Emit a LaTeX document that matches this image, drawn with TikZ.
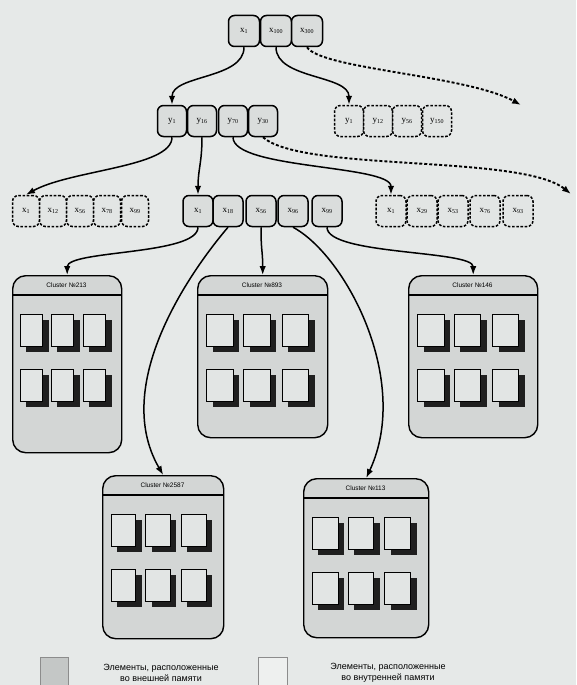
\documentclass[tikz,border=0pt]{standalone}
\usepackage{fontspec}
\setsansfont{Liberation Sans}
\newfontfamily\cellfont{Liberation Serif}
\usetikzlibrary{arrows.meta,calc}
\definecolor{paper}{RGB}{230,233,232}
\definecolor{cellfill}{RGB}{218,221,220}
\definecolor{dashfill}{RGB}{226,229,228}
\definecolor{clusterfill}{RGB}{211,214,213}
\definecolor{docfill}{RGB}{226,229,228}
\definecolor{extfill}{RGB}{196,199,198}
\definecolor{intfill}{RGB}{238,240,239}

\tikzset{
  cell/.style={draw, line width=1.5pt, rounded corners=6pt, fill=cellfill,
    minimum width=29pt, minimum height=31pt, inner sep=0pt,
    font=\cellfont\fontsize{9}{10}\selectfont},
  dcell/.style={cell, fill=dashfill, dash pattern=on 2.6pt off 1.6pt},
  conn/.style={draw, line width=1.5pt, -{Latex[length=9pt,width=6.5pt]}},
  dconn/.style={draw, line width=1.9pt, dash pattern=on 3pt off 2pt,
    -{Latex[length=9pt,width=6.5pt]}},
  clusterbox/.style={draw, line width=1.4pt, rounded corners=13pt,
    fill=clusterfill, inner sep=0pt, anchor=north west},
  docfront/.style={draw=black, line width=0.9pt, fill=docfill},
  legendtext/.style={font=\sffamily\fontsize{9}{11}\selectfont, align=center},
}

% one cluster: name, left, top, width, height, number
\newcommand\clusterunit[6]{%
  \node[clusterbox, minimum width=#4pt, minimum height=#5pt] (#1) at (#2,#3) {};
  \draw[line width=1.3pt] (#2,{#3+20}) -- ({#2+#4},{#3+20});
  \node[font=\sffamily\fontsize{6.5}{7}\selectfont] (#1-title) at ({#2+#4/2},{#3+10.5}) {Cluster №#6};
  \foreach \c in {0.075,0.36,0.655}{
    \foreach \r in {39,94}{
      \fill[black!88] ({#2+\c*#4+6},{#3+\r+6}) rectangle ++({0.205*#4},32);
      \filldraw[docfront] ({#2+\c*#4},{#3+\r}) rectangle ++({0.205*#4},32);
    }
  }%
}

\newcommand\xs[1]{x\textsubscript{#1}}
\newcommand\ys[1]{y\textsubscript{#1}}

\begin{document}
\begin{tikzpicture}[x=1pt,y=-1pt]
\fill[paper] (0,0) rectangle (576,685);
\useasboundingbox (0,0) rectangle (576,685);

% root level
\node[cell, minimum width=31pt] (a1) at (244,31) {\xs{1}};
\node[cell, minimum width=31pt] (a2) at (276,31) {\xs{100}};
\node[cell, minimum width=31pt] (a3) at (307,31) {\xs{300}};

% second level
\node[cell] (b1) at (172,121) {\ys{1}};
\node[cell] (b2) at (202,121) {\ys{16}};
\node[cell] (b3) at (233,121) {\ys{70}};
\node[cell] (b4) at (263,121) {\ys{30}};

\node[dcell] (c1) at (349,121) {\ys{1}};
\node[dcell] (c2) at (378,121) {\ys{12}};
\node[dcell] (c3) at (407,121) {\ys{56}};
\node[dcell] (c4) at (437,121) {\ys{150}};

% third level
\node[dcell, minimum width=27pt] (l1) at (26,211) {\xs{1}};
\node[dcell, minimum width=27pt] (l2) at (53,211) {\xs{12}};
\node[dcell, minimum width=27pt] (l3) at (80,211) {\xs{56}};
\node[dcell, minimum width=27pt] (l4) at (107,211) {\xs{78}};
\node[dcell, minimum width=27pt] (l5) at (135,211) {\xs{99}};

\node[cell, minimum width=30pt] (m1) at (198,211) {\xs{1}};
\node[cell, minimum width=30pt] (m2) at (228,211) {\xs{18}};
\node[cell, minimum width=30pt] (m3) at (261,211) {\xs{56}};
\node[cell, minimum width=30pt] (m4) at (293,211) {\xs{96}};
\node[cell, minimum width=30pt] (m5) at (327,211) {\xs{99}};

\node[dcell, minimum width=30pt] (r1) at (391,211) {\xs{1}};
\node[dcell, minimum width=30pt] (r2) at (422,211) {\xs{29}};
\node[dcell, minimum width=30pt] (r3) at (453,211) {\xs{53}};
\node[dcell, minimum width=30pt] (r4) at (485,211) {\xs{76}};
\node[dcell, minimum width=30pt] (r5) at (518,211) {\xs{93}};

% clusters
\clusterunit{k213}{12}{275}{109}{177}{213}
\clusterunit{k893}{197}{275}{130}{162}{893}
\clusterunit{k146}{408}{275}{129}{162}{146}
\clusterunit{k2587}{102}{475}{121}{163}{2587}
\clusterunit{k113}{303}{478}{125}{159}{113}

% free ends of the dashed links
\coordinate (e1) at (521,105);
\coordinate (e2) at (571,194);

% links
\draw[conn] (a1.south) .. controls +(0,32) and +(0,-30) .. (b1.north);
\draw[conn] (a2.south) .. controls +(0,32) and +(0,-30) .. (c1.north);
\draw[dconn] (a3.south) .. controls +(15,22) and +(-55,-30) .. (e1);

\draw[conn] (b1.south) .. controls +(0,30) and +(45,-25) .. (l1.north);
\draw[conn] (b2.south) .. controls +(0,25) and +(0,-25) .. (m1.north);
\draw[conn] (b3.south) .. controls +(0,32) and +(0,-30) .. (r1.north);
\draw[dconn] (b4.south) .. controls +(40,35) and +(-50,-40) .. (e2);

\draw[conn] (m1.south) .. controls +(0,28) and +(0,-25) .. (k213.north);
\draw[conn] (m2.south) .. controls (200,260) and (108,380) .. (k2587.north);
\draw[conn] (m3.south) .. controls +(0,25) and +(0,-25) .. (k893.north);
\draw[conn] (m4.south) .. controls (345,255) and (412,380) .. (k113.north);
\draw[conn] (m5.south) .. controls +(0,28) and +(0,-25) .. (k146.north);

% legend
\filldraw[fill=extfill, draw=black!45, line width=0.8pt] (40,657) rectangle (68,685);
\node[legendtext] (lg1) at (161,673) {Элементы, расположенные\\во внешней памяти};
\filldraw[fill=intfill, draw=black!45, line width=0.8pt] (258,657) rectangle (287,685);
\node[legendtext] (lg2) at (388,673) {Элементы, расположенные\\во внутренней памяти};
\end{tikzpicture}
\end{document}
